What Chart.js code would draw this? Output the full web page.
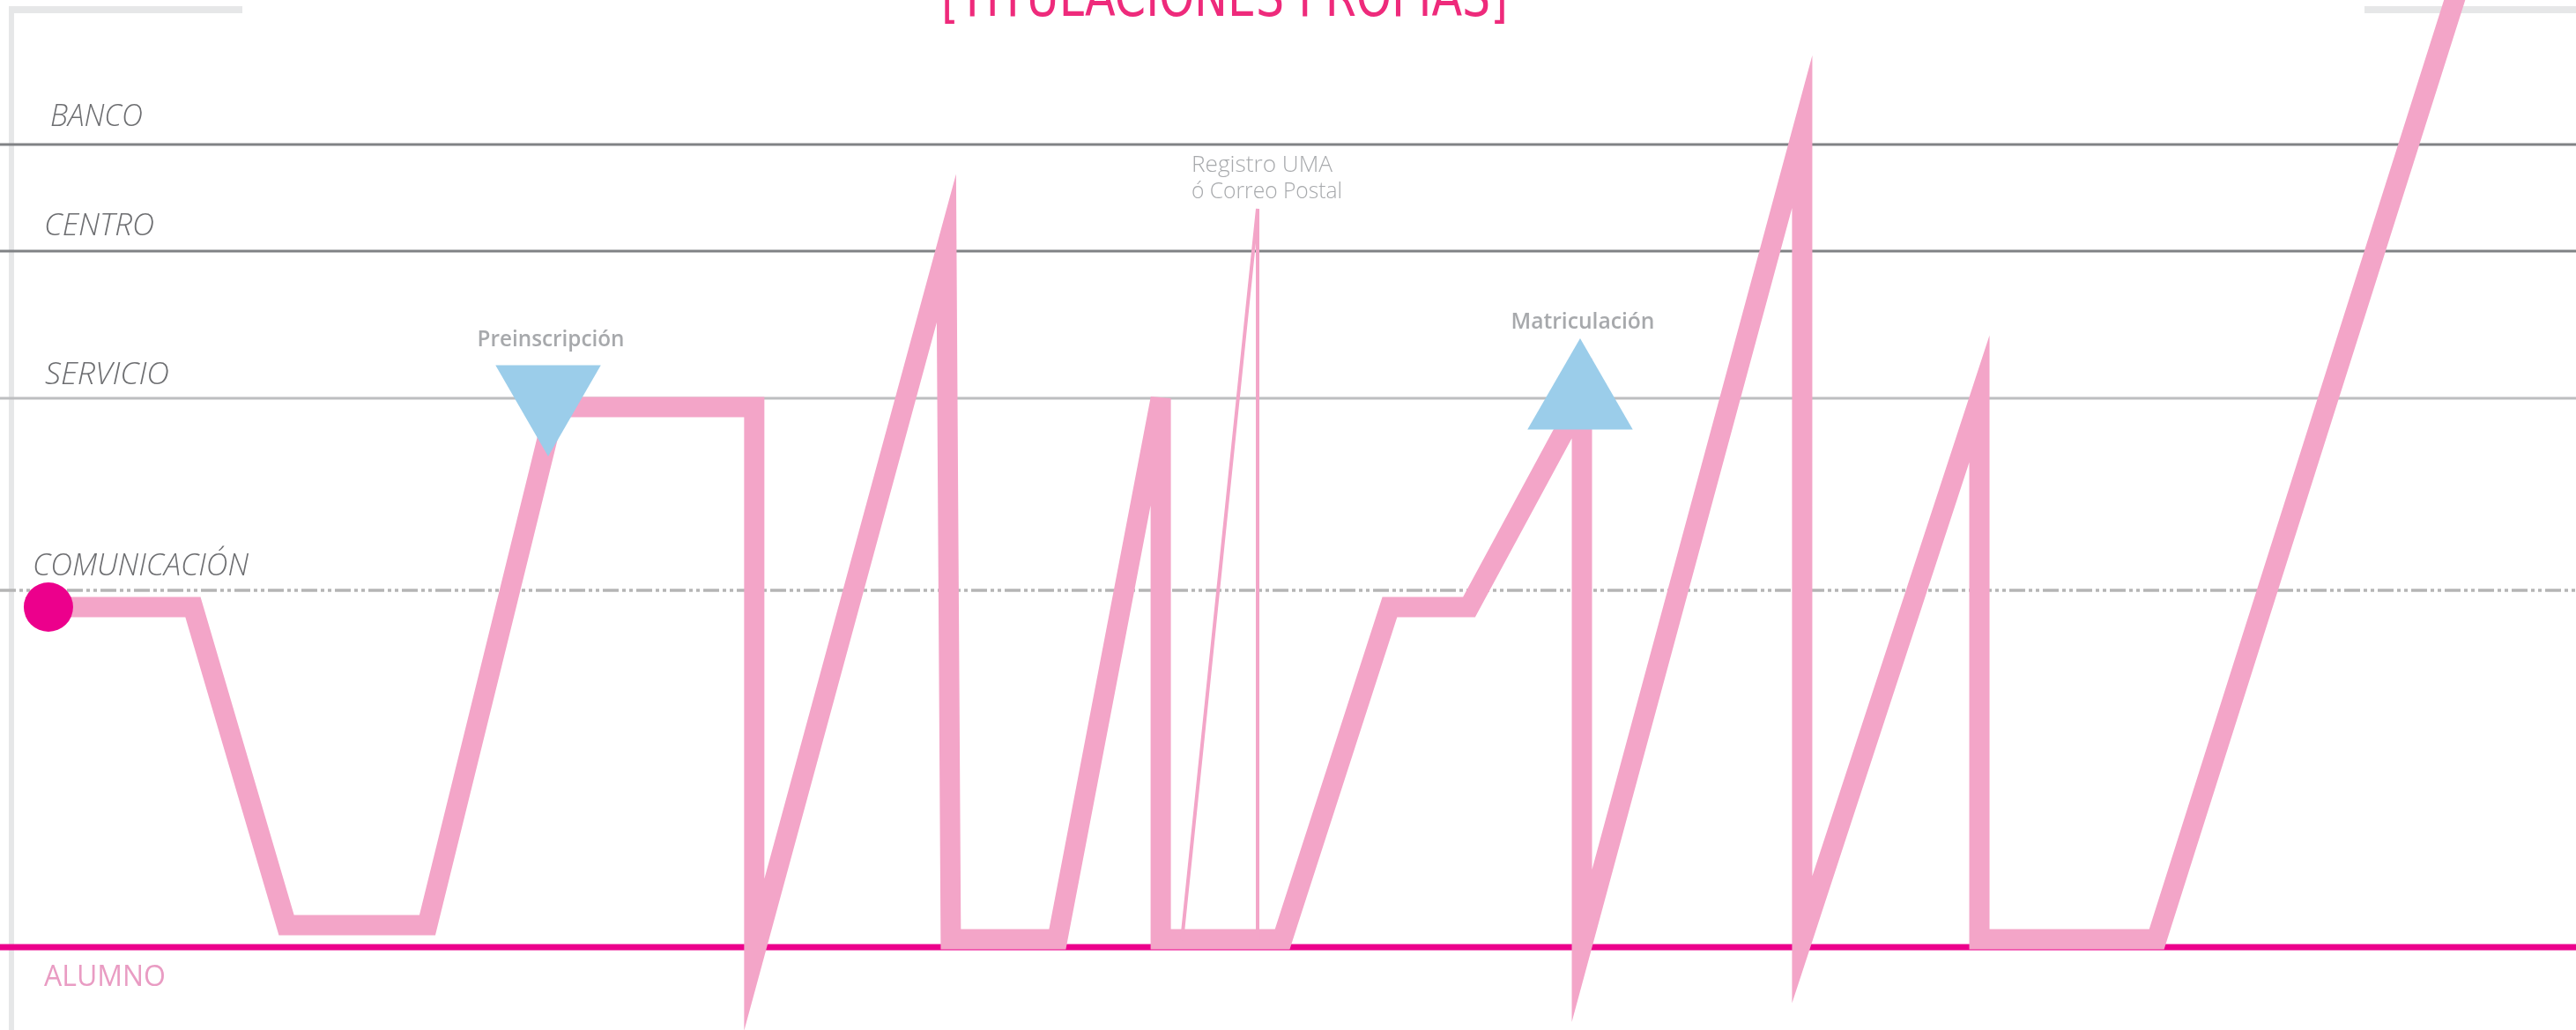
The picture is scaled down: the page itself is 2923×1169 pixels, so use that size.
<!DOCTYPE html>
<html lang="es">
<head>
<meta charset="utf-8">
<title>Titulaciones propias</title>
<script src="https://cdn.jsdelivr.net/npm/chart.js@4.4.1/dist/chart.umd.min.js"></script>
<style>
  html, body { margin: 0; padding: 0; background: #ffffff; overflow: hidden; }
  canvas { display: block; }
</style>
</head>
<body>
<canvas id="proceso" width="2923" height="1169"></canvas>
<script>
// --- Data: x = % of the journey, y = height above ALUMNO (% of the figure) ---
var chartTitle  = '[TITULACIONES PROPIAS]';

var levelNames  = ['ALUMNO', 'COMUNICACIÓN', 'SERVICIO', 'CENTRO', 'BANCO'];
var levelValues = [0, 37.67, 57.95, 73.49, 84.74];

// main path of the student through the process
var pathX = [1.88, 7.49, 11.12, 16.59, 21.55, 29.28, 29.28, 36.74, 36.91, 41.05, 45.06, 45.06,
             49.78, 53.95, 57.03, 61.41, 61.41, 69.96, 69.96, 76.84, 76.84, 83.72, 95.83];
var pathY = [35.91, 35.91, 2.33, 2.33, 57.02, 57.02, -0.8, 73.8, 0.84, 0.84, 57.95, 0.84,
             0.84, 35.91, 35.91, 57.95, 0.14, 86.1, 0.8, 57.9, 0.84, 0.84, 104.65];

// thin detour: Registro UMA / Correo Postal
var postX = [45.88, 48.82, 48.82];
var postY = [0.74, 77.95, 0.74];
var postLabel = ['Registro UMA', 'ó Correo Postal'];

// milestones (triangles)
var eventNames = ['Preinscripción', 'Matriculación'];
var eventX = [21.28, 61.34];
var eventY = [58.23, 57.86];

(function () {
  'use strict';

  if (typeof Chart === 'undefined') return;

  var c = {
    pink:      '#f3a5c8',
    magenta:   '#ec008c',
    blue:      '#9bcdea',
    title:     '#ee2a7b',
    label:     '#6d6e71',
    event:     '#a7a9ac',
    alumno:    '#e99cc3',
    frame:     '#e6e7e8'
  };

  // per-level line style, same order as levelNames
  var levelStyle = [
    { color: c.magenta, width: 7,   dash: [] },
    { color: '#b5b5b5', width: 3.5, dash: [18, 4, 4, 4, 4, 4] },
    { color: '#bdbec0', width: 3,   dash: [] },
    { color: '#808285', width: 3,   dash: [] },
    { color: '#808285', width: 3,   dash: [] }
  ];
  var levelLabelBox = [
    { left: 50, width: 138, dy: 44 },
    { left: 37, width: 245, dy: -17 },
    { left: 51, width: 141, dy: -16 },
    { left: 50, width: 125, dy: -18 },
    { left: 57, width: 105, dy: -21 }
  ];

  function pts(xs, ys) {
    return xs.map(function (x, i) { return { x: x, y: ys[i] }; });
  }

  // text squeezed/stretched to a measured width
  function fitText(ctx, text, left, baseline, width, font, color) {
    ctx.save();
    ctx.font = font;
    ctx.fillStyle = color;
    ctx.textAlign = 'left';
    ctx.textBaseline = 'alphabetic';
    var w = ctx.measureText(text).width;
    ctx.translate(left, baseline);
    ctx.scale(width / w, 1);
    ctx.fillText(text, 0, 0);
    ctx.restore();
  }

  // --- frame, level lines and level names (under the path) ---
  var levelsPlugin = {
    id: 'levels',
    beforeDatasetsDraw: function (chart) {
      var ctx = chart.ctx;
      var y = chart.scales.y;

      ctx.save();
      ctx.fillStyle = c.frame;
      ctx.fillRect(10, 7, 6, chart.height - 7);
      ctx.fillRect(10, 7, 265, 8);
      ctx.fillRect(2683, 7, 240, 8);

      levelValues.forEach(function (v, i) {
        var py = y.getPixelForValue(v);
        var s = levelStyle[i];
        ctx.beginPath();
        ctx.strokeStyle = s.color;
        ctx.lineWidth = s.width;
        ctx.setLineDash(s.dash);
        ctx.moveTo(0, py);
        ctx.lineTo(chart.width, py);
        ctx.stroke();
      });
      ctx.setLineDash([]);

      levelNames.forEach(function (name, i) {
        var py = y.getPixelForValue(levelValues[i]);
        var b = levelLabelBox[i];
        var isAlumno = i === 0;
        fitText(ctx, name, b.left, py + b.dy, b.width,
          isAlumno ? '400 33px "Open Sans", sans-serif' : 'italic 300 34px "Open Sans", sans-serif',
          isAlumno ? c.alumno : c.label);
      });
      ctx.restore();
    }
  };

  // --- milestone names, post label and title (over the path) ---
  var notesPlugin = {
    id: 'notes',
    afterDatasetsDraw: function (chart) {
      var ctx = chart.ctx;
      var xs = chart.scales.x;
      var ys = chart.scales.y;
      var r = 69;
      var widths = [167, 163];

      eventNames.forEach(function (name, i) {
        var px = xs.getPixelForValue(eventX[i]);
        var py = ys.getPixelForValue(eventY[i]);
        var top = i === 0 ? py - r / 2 : py - r;
        var gap = i === 0 ? 22 : 11;
        fitText(ctx, name, px + 3 - widths[i] / 2, top - gap, widths[i],
          '600 25px "Open Sans", sans-serif', c.event);
      });

      var peakX = xs.getPixelForValue(postX[1]);
      var peakY = ys.getPixelForValue(postY[1]);
      fitText(ctx, postLabel[0], peakX - 75, peakY - 42, 160, '300 25px "Open Sans", sans-serif', c.event);
      fitText(ctx, postLabel[1], peakX - 75, peakY - 12, 171, '300 25px "Open Sans", sans-serif', c.event);

      fitText(ctx, chartTitle, 1068, 18, 643, '400 62px "DejaVu Sans", sans-serif', c.title);
    }
  };

  new Chart(document.getElementById('proceso').getContext('2d'), {
    type: 'scatter',
    data: {
      datasets: [
        {
          label: 'Inicio',
          data: pts(pathX.slice(0, 1), pathY.slice(0, 1)),
          pointStyle: 'circle',
          pointRadius: 28,
          pointBackgroundColor: c.magenta,
          pointBorderWidth: 0,
          order: 0
        },
        {
          label: 'Hitos',
          data: pts(eventX, eventY),
          pointStyle: 'triangle',
          pointRadius: 69,
          pointRotation: [180, 0],
          pointBackgroundColor: c.blue,
          pointBorderWidth: 0,
          order: 1
        },
        {
          label: 'Registro',
          data: pts(postX, postY),
          showLine: true,
          borderColor: c.pink,
          borderWidth: 4,
          borderJoinStyle: 'miter',
          pointRadius: 0,
          tension: 0,
          order: 2
        },
        {
          label: 'Recorrido',
          data: pts(pathX, pathY),
          showLine: true,
          borderColor: c.pink,
          borderWidth: 23,
          borderJoinStyle: 'miter',
          borderCapStyle: 'butt',
          pointRadius: 0,
          tension: 0,
          clip: false,
          order: 3
        }
      ]
    },
    options: {
      responsive: false,
      animation: false,
      events: [],
      layout: { padding: 0, autoPadding: false },
      plugins: {
        legend: { display: false },
        tooltip: { enabled: false },
        title: { display: false }
      },
      scales: {
        x: { type: 'linear', min: 0, max: 100, display: false },
        y: { type: 'linear', min: -8.74, max: 100, display: false }
      }
    },
    plugins: [levelsPlugin, notesPlugin]
  });
})();
</script>
</body>
</html>
